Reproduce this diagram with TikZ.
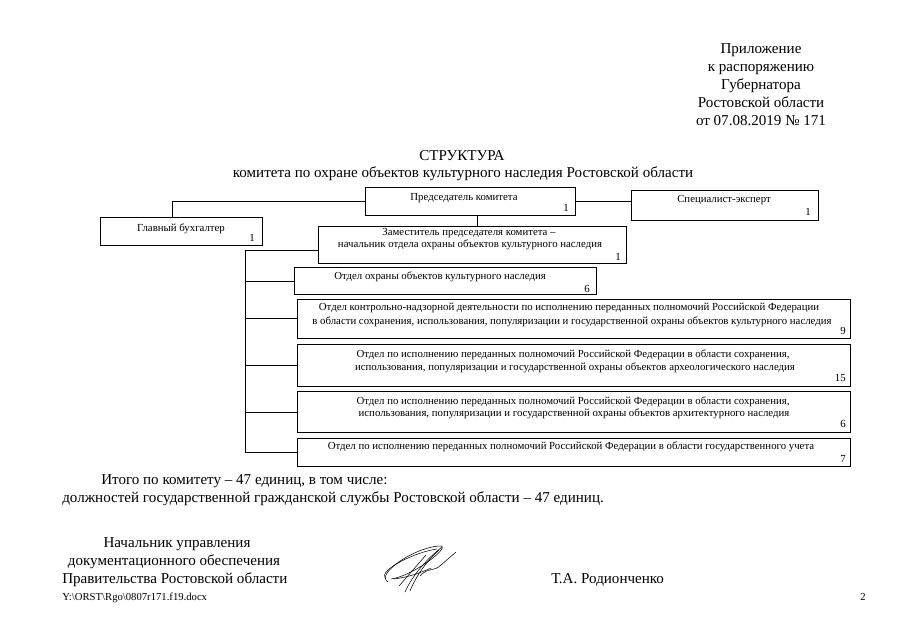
\documentclass[tikz,border=0pt]{standalone}
\usepackage{fontspec}
\setmainfont{Liberation Serif}
\usetikzlibrary{fit}
\begin{document}
\begin{tikzpicture}[x=0.75pt,y=-0.75pt,
  box/.style={draw, line width=0.75pt, inner sep=0pt, fit=#1},
  bt/.style={font=\fontsize{8.1}{9.6}\selectfont, anchor=base, inner sep=0pt},
  num/.style={font=\fontsize{8.1}{9.6}\selectfont, anchor=base east, inner sep=0pt},
  mt/.style={font=\fontsize{11.3}{13.5}\selectfont, anchor=base, inner sep=0pt},
  mtl/.style={font=\fontsize{11.3}{13.5}\selectfont, anchor=base west, inner sep=0pt},
  conn/.style={line width=0.75pt},
  sig/.style={line width=0.4pt, line cap=round}]
\path[use as bounding box, fill=white] (0,0) rectangle (905,640);

% header
\node[mt] (h1) at (761,53) {Приложение};
\node[mt] (h2) at (761,71) {к распоряжению};
\node[mt] (h3) at (761,89) {Губернатора};
\node[mt] (h4) at (761,107) {Ростовской области};
\node[mt] (h5) at (761,125) {от 07.08.2019 № 171};

\node[mt] (t1) at (462,160) {СТРУКТУРА};
\node[mt] (t2) at (463,177) {комитета по охране объектов культурного наследия Ростовской области};

% box corners
\coordinate (p1) at (365,187); \coordinate (p2) at (575,215);
\coordinate (s1) at (631,190); \coordinate (s2) at (818,220);
\coordinate (b1) at (100,217); \coordinate (b2) at (262,245);
\coordinate (z1) at (318,226); \coordinate (z2) at (626,263);
\coordinate (o1) at (294,267); \coordinate (o2) at (596,294);
\coordinate (k1) at (297,299); \coordinate (k2) at (850,338);
\coordinate (a1) at (297,344); \coordinate (a2) at (850,386);
\coordinate (r1) at (297,391); \coordinate (r2) at (850,432);
\coordinate (u1) at (297,438); \coordinate (u2) at (850,466);

\node[box=(p1)(p2)] (pred) {};
\node[box=(s1)(s2)] (spec) {};
\node[box=(b1)(b2)] (buh) {};
\node[box=(z1)(z2)] (zam) {};
\node[box=(o1)(o2)] (ohr) {};
\node[box=(k1)(k2)] (kon) {};
\node[box=(a1)(a2)] (arh) {};
\node[box=(r1)(r2)] (arc) {};
\node[box=(u1)(u2)] (uch) {};

% box texts
\node[bt] (predT) at (464,200) {Председатель комитета};
\node[num] (predN) at (569,211) {1};
\node[bt] (specT) at (724,202) {Специалист-эксперт};
\node[num] (specN) at (811,215) {1};
\node[bt] (buhT) at (181,231) {Главный бухгалтер};
\node[num] (buhN) at (255,241) {1};
\node[bt] (zamT1) at (469,235) {Заместитель председателя комитета –};
\node[bt] (zamT2) at (470,247) {начальник отдела охраны объектов культурного наследия};
\node[num] (zamN) at (621,260) {1};
\node[bt] (ohrT) at (440,279) {Отдел охраны объектов культурного наследия};
\node[num] (ohrN) at (590,292) {6};
\node[bt] (konT1) at (569,310) {Отдел контрольно-надзорной деятельности по исполнению переданных полномочий Российской Федерации};
\node[bt] (konT2) at (572,324) {в области сохранения, использования, популяризации и государственной охраны объектов культурного наследия};
\node[num] (konN) at (846,334) {9};
\node[bt] (arhT1) at (573,357) {Отдел по исполнению переданных полномочий Российской Федерации в области сохранения,};
\node[bt] (arhT2) at (575,370) {использования, популяризации и государственной охраны объектов археологического наследия};
\node[num] (arhN) at (846,381) {15};
\node[bt] (arcT1) at (573,404) {Отдел по исполнению переданных полномочий Российской Федерации в области сохранения,};
\node[bt] (arcT2) at (574,416) {использования, популяризации и государственной охраны объектов архитектурного наследия};
\node[num] (arcN) at (846,427) {6};
\node[bt] (uchT) at (571,449) {Отдел по исполнению переданных полномочий Российской Федерации в области государственного учета};
\node[num] (uchN) at (846,462) {7};

% connectors
\coordinate (buhTop) at (172,217);
\draw[conn] (pred.west) -| (buhTop);
\draw[conn] (pred.east) -- (pred.east -| spec.west);
\coordinate (zamTop) at (477,226);
\coordinate (predBot) at (477,215);
\draw[conn] (predBot) -- (zamTop);
\coordinate (busTop) at (245,250);
\coordinate (busBot) at (245,452);
\draw[conn] (zam.west |- busTop) -- (busTop) -- (busBot) -- (busBot -| uch.west);
\coordinate (jo) at (245,281);
\coordinate (jk) at (245,318);
\coordinate (ja) at (245,365);
\coordinate (jr) at (245,412);
\draw[conn] (jo) -- (jo -| ohr.west);
\draw[conn] (jk) -- (jk -| kon.west);
\draw[conn] (ja) -- (ja -| arh.west);
\draw[conn] (jr) -- (jr -| arc.west);

% totals
\node[mtl] (tot1) at (101,484) {Итого по комитету – 47 единиц, в том числе:};
\node[mtl] (tot2) at (62,502) {должностей государственной гражданской службы Ростовской области – 47 единиц.};

% signature block
\node[mt] (n1) at (177,547) {Начальник управления};
\node[mt] (n2) at (174,565) {документационного обеспечения};
\node[mtl] (n3) at (62,583) {Правительства Ростовской области};
\node[mtl] (fio) at (551,583) {Т.А. Родионченко};
\node[font=\fontsize{8}{9}\selectfont, anchor=base west, inner sep=0pt] (file) at (62,600) {Y:\textbackslash ORST\textbackslash Rgo\textbackslash 0807r171.f19.docx};
\node[font=\fontsize{8}{9}\selectfont, anchor=base east, inner sep=0pt] (page) at (866,600) {2};

% handwritten signature
\draw[sig] (388,582) .. controls (374,574) and (418,545) .. (442,546) .. controls (447,550) and (412,576) .. (391,579);
\draw[sig] (385,578) .. controls (379,570) and (415,552) .. (437,549);
\draw[sig] (405,592) .. controls (413,574) and (428,558) .. (442,547);
\draw[sig] (410,591) .. controls (416,576) and (426,562) .. (439,550);
\draw[sig] (399,586) -- (426,555);
\draw[sig] (420,576) .. controls (428,567) and (434,572) .. (441,565) -- (456,552);
\draw[sig] (394,579) .. controls (409,577) and (420,573) .. (431,568);
\end{tikzpicture}
\end{document}
